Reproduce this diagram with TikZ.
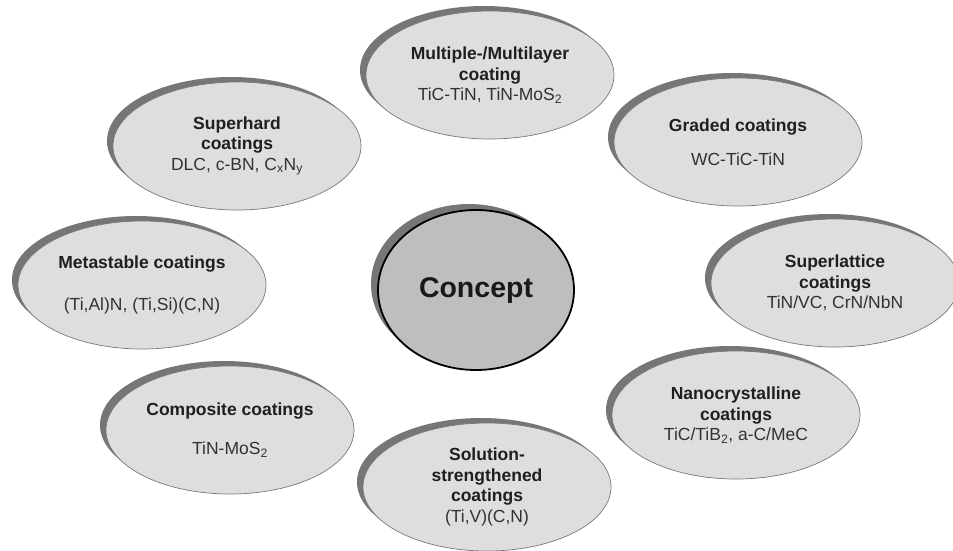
\documentclass[tikz,border=0pt]{standalone}
\usepackage{fontspec}
\setmainfont{Liberation Sans}
\usetikzlibrary{shapes.geometric,shadows}
\definecolor{bubfill}{RGB}{222,222,222}
\definecolor{bubline}{RGB}{120,120,120}
\definecolor{shgray}{RGB}{118,118,118}
\definecolor{conceptfill}{RGB}{190,190,190}
\definecolor{txtgray}{RGB}{50,50,50}
\tikzset{
  bub/.style={ellipse, draw=bubline, line width=0.7pt, fill=bubfill,
    minimum width=248pt, minimum height=128pt, inner sep=0pt, align=center,
    font=\fontsize{17.5}{20.5}\selectfont, text=txtgray,
    general shadow={fill=shgray, shadow xshift=-6pt, shadow yshift=5pt}},
  conceptbub/.style={ellipse, draw=black, line width=1.8pt, fill=conceptfill,
    minimum width=196pt, minimum height=160pt, inner sep=0pt,
    font=\fontsize{28.5}{32}\selectfont\bfseries, text=black!90,
    general shadow={fill=shgray, shadow xshift=-7pt, shadow yshift=6pt}},
}
\newcommand{\ttl}[1]{{\bfseries\color{black!88}#1}}
\newcommand{\sbs}[1]{\textsubscript{#1}}
\begin{document}
\begin{tikzpicture}[x=1pt,y=-1pt]
\useasboundingbox (0,0) rectangle (953,550);
\node[bub] (multi) at (490,75) {\ttl{Multiple-/Multilayer}\\ \ttl{coating}\\ TiC-TiN, TiN-MoS\sbs{2}};
\node[bub] (superhard) at (237,146) {\ttl{Superhard}\\ \ttl{coatings}\\ DLC, c-BN, C\sbs{x}N\sbs{y}};
\node[bub] (graded) at (738,142) {\ttl{Graded coatings}\\[13pt] WC-TiC-TiN};
\node[bub] (metastable) at (142,285) {\ttl{Metastable coatings}\\[21pt] (Ti,Al)N, (Ti,Si)(C,N)};
\node[conceptbub] (concept) at (476,290) {Concept};
\node[bub] (superlattice) at (835,283) {\ttl{Superlattice}\\ \ttl{coatings}\\ TiN/VC, CrN/NbN};
\node[bub] (composite) at (230,430) {\ttl{Composite coatings}\\[19pt] TiN-MoS\sbs{2}};
\node[bub] (nano) at (736,415) {\ttl{Nanocrystalline}\\ \ttl{coatings}\\ TiC/TiB\sbs{2}, a-C/MeC};
\node[bub] (solution) at (487,487) {\ttl{Solution-}\\ \ttl{strengthened}\\ \ttl{coatings}\\ (Ti,V)(C,N)};
\end{tikzpicture}
\end{document}
